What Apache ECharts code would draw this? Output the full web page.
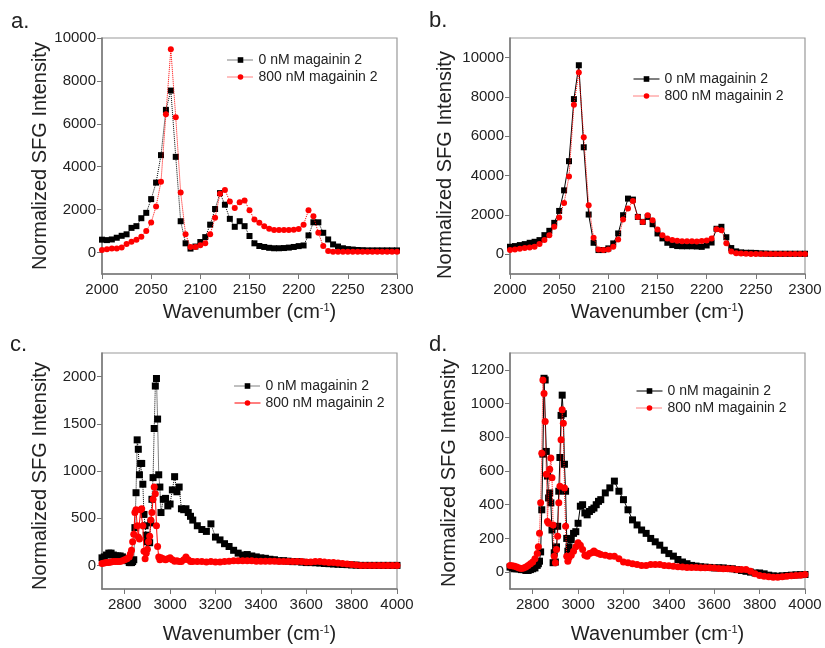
<!DOCTYPE html>
<html>
<head>
<meta charset="utf-8">
<script src="https://cdn.jsdelivr.net/npm/echarts@6/dist/echarts.min.js"></script>
<style>
html,body{margin:0;padding:0;background:#fff;}
#chart{width:825px;height:648px;}
</style>
</head>
<body>
<div id="chart"></div>
<script>
const seriesNames = ['0 nM magainin 2', '800 nM magainin 2'];
const panelLabels = ['a.', 'b.', 'c.', 'd.'];
const xAxisTitle = 'Wavenumber (cm{sup|-1})';
const yAxisTitle = 'Normalized SFG Intensity';

// Panels a & b wavenumbers
const xAB = [2000,2005,2010,2015,2020,2025,2030,2035,2040,2045,
  2050,2055,2060,2065,2070,2075,2080,2085,2090,2095,
  2100,2105,2110,2115,2120,2125,2130,2135,2140,2145,
  2150,2155,2160,2165,2170,2175,2180,2185,2190,2195,
  2200,2205,2210,2215,2220,2225,2230,2235,2240,2245,
  2250,2255,2260,2265,2270,2275,2280,2285,2290,2295,
  2300];

const blackA = [600,580,610,690,780,850,1150,1230,1600,1850,
  2490,3260,4540,6650,7550,4460,1460,430,185,280,
  490,720,1300,2030,2770,2230,1570,1200,1460,1230,
  770,430,305,260,220,200,200,210,230,260,
  300,330,800,1410,1410,920,610,380,280,200,
  160,140,120,110,100,100,100,100,100,100,
  100];
const redA = [120,150,185,185,230,400,500,600,740,1000,
  1400,2150,3300,6450,9470,6310,2800,850,260,260,
  340,430,850,1620,2740,2920,2380,2080,2340,2430,
  1970,1540,1390,1230,1110,1050,1050,1050,1050,1060,
  1100,1300,1970,1690,920,300,70,40,40,40,
  40,40,40,40,40,40,40,40,40,40,
  40];

const blackB = [385,420,470,520,587,638,723,976,1196,1600,
  2207,3254,4737,7894,9615,5445,2024,587,217,217,
  303,556,1062,1989,2834,2783,1903,1650,1903,1533,
  1062,810,587,470,420,410,410,410,400,380,
  450,600,1300,1400,870,320,150,100,80,80,
  70,50,40,30,30,30,30,30,30,30,
  30];
const redB = [217,250,284,318,352,385,520,723,976,1397,
  1872,2611,3962,7606,9241,5952,2495,843,250,217,
  250,385,757,1770,2327,2715,1903,1650,1989,1736,
  1264,976,810,723,689,670,660,660,650,680,
  700,800,1270,1230,560,140,60,40,30,20,
  20,20,20,20,20,20,20,20,20,20,
  20];

// Panels c & d wavenumbers
const xCD = [2700,2710,2720,2730,2740,2750,2760,2770,2780,2790,
  2800,2810,2820,2825,2830,2835,2840,2845,2850,2855,
  2860,2865,2870,2875,2880,2885,2890,2895,2900,2905,
  2910,2915,2920,2925,2930,2935,2940,2945,2950,2955,
  2960,2970,2980,2990,3000,3010,3020,3030,3040,3050,
  3060,3070,3080,3090,3100,3120,3140,3160,3180,3200,
  3220,3240,3260,3280,3300,3320,3340,3360,3380,3400,
  3420,3440,3460,3480,3500,3520,3540,3560,3580,3600,
  3620,3640,3660,3680,3700,3720,3740,3760,3780,3800,
  3820,3840,3860,3880,3900,3920,3940,3960,3980,4000];

const blackC = [80,90,110,130,130,110,100,100,100,90,
  70,50,30,30,30,40,60,400,770,1330,
  1230,960,1080,1080,860,540,420,320,250,300,
  240,450,700,930,1450,1900,1980,1550,960,830,
  560,700,710,630,650,800,940,780,830,600,
  590,600,560,520,480,420,380,360,440,300,
  270,230,200,160,130,110,115,100,90,80,
  75,65,60,50,50,45,40,40,35,30,
  30,28,25,20,18,15,12,10,8,5,
  3,0,0,0,0,0,0,0,0,0];
const redC = [20,25,30,30,35,40,40,40,40,50,
  60,70,90,120,160,250,330,560,590,420,
  300,280,590,600,420,150,70,130,170,250,
  310,480,560,700,830,760,420,200,90,60,
  80,70,60,70,80,60,45,50,40,40,
  60,90,60,40,40,40,40,35,40,35,
  35,40,45,50,50,50,50,50,45,45,
  45,45,45,40,40,40,40,40,40,35,
  35,40,40,35,30,30,25,20,15,10,
  5,0,0,0,0,0,0,0,0,0];

const blackD = [30,25,20,20,20,15,15,10,10,15,
  20,25,40,50,65,120,370,700,1150,1140,
  716,570,440,470,411,250,56,115,60,150,
  272,480,680,930,1050,940,640,480,200,124,
  150,193,230,240,290,391,400,351,340,360,
  371,380,400,420,430,470,500,540,480,430,
  370,310,280,250,230,200,180,160,130,110,
  95,75,60,50,40,36,32,30,28,25,
  26,25,22,20,15,10,5,0,-5,-5,
  -10,-18,-22,-24,-22,-20,-18,-16,-15,-14];
const redD = [40,38,35,30,25,22,25,30,40,50,
  60,80,110,150,230,411,706,1140,1060,894,
  580,300,290,610,677,560,280,95,56,134,
  213,411,509,785,963,884,499,272,95,65,
  85,100,124,150,174,160,134,100,95,110,
  115,125,115,110,105,100,95,95,80,60,
  56,50,45,40,40,45,45,45,40,38,
  35,32,30,28,28,27,26,26,26,25,
  22,20,20,18,16,16,15,5,-10,-20,
  -25,-28,-30,-30,-28,-25,-22,-20,-18,-14];

// tick labels
const xTicksAB = [2000,2050,2100,2150,2200,2250,2300];
const xTicksCD = [2800,3000,3200,3400,3600,3800,4000];
const yTicksA = [0,2000,4000,6000,8000,10000];
const yTicksB = [0,2000,4000,6000,8000,10000];
const yTicksC = [0,500,1000,1500,2000];
const yTicksD = [0,200,400,600,800,1000,1200];

const FONT = 'Liberation Sans, Arial, sans-serif';
const TXT = '#222';
const AXC = '#777';
const plain = v => String(v);

const panels = [
  {x: xAB, k: blackA, r: redA, xmin: 2000, xmax: 2300, xt: xTicksAB, ymin: -1000, ymax: 10000, yt: yTicksA,
   grid: {left: 102, top: 38, width: 295, height: 236}, kLine: 'dotted', rLine: 'dotted', sym: 6,
   legend: {left: 227, top: 53}, yGap: 52, yPad: 0, xGap: 28, lab: [11, 22]},
  {x: xAB, k: blackB, r: redB, xmin: 2000, xmax: 2300, xt: xTicksAB, ymin: -1000, ymax: 11000, yt: yTicksB,
   grid: {left: 510, top: 38, width: 295, height: 236}, kLine: 'solid', rLine: 'dotted', sym: 6,
   legend: {left: 633, top: 72}, yGap: 55, yPad: 18, xGap: 28, lab: [429, 21]},
  {x: xCD, k: blackC, r: redC, xmin: 2700, xmax: 4000, xt: xTicksCD, ymin: -250, ymax: 2250, yt: yTicksC,
   grid: {left: 102, top: 353, width: 295, height: 236}, kLine: 'dotted', rLine: 'solid', sym: 7,
   legend: {left: 234, top: 379}, yGap: 52, yPad: 10, xGap: 35, lab: [10, 345]},
  {x: xCD, k: blackD, r: redD, xmin: 2700, xmax: 4000, xt: xTicksCD, ymin: -100, ymax: 1300, yt: yTicksD,
   grid: {left: 510, top: 353, width: 295, height: 236}, kLine: 'solid', rLine: 'dotted', sym: 7,
   legend: {left: 636, top: 384}, yGap: 51, yPad: 4, xGap: 35, lab: [429, 345]}
];

const option = {
  animation: false,
  backgroundColor: '#fff',
  grid: [], xAxis: [], yAxis: [], series: [], legend: [], graphic: []
};

panels.forEach((p, i) => {
  option.grid.push(Object.assign({show: true, borderColor: '#999', borderWidth: 1.2, backgroundColor: 'transparent'}, p.grid));
  option.xAxis.push({
    type: 'value', gridIndex: i, min: p.xmin, max: p.xmax,
    splitLine: {show: false},
    axisLine: {show: true, onZero: false, lineStyle: {color: AXC, width: 1.5}},
    axisTick: {show: true, length: 5, customValues: p.xt, lineStyle: {color: AXC}},
    axisLabel: {customValues: p.xt, formatter: plain, fontSize: 15, color: TXT, fontFamily: FONT, margin: 8, showMaxLabel: true, showMinLabel: true},
    name: xAxisTitle, nameLocation: 'middle', nameGap: p.xGap,
    nameTextStyle: {fontSize: 20, color: TXT, fontFamily: FONT,
      rich: {sup: {fontSize: 11, color: TXT, fontFamily: FONT, verticalAlign: 'top', padding: [0, 0, 8, 0]}}}
  });
  option.yAxis.push({
    type: 'value', gridIndex: i, min: p.ymin, max: p.ymax,
    splitLine: {show: false},
    axisLine: {show: true, onZero: false, lineStyle: {color: AXC, width: 1.5}},
    axisTick: {show: true, length: 5, customValues: p.yt, lineStyle: {color: AXC}},
    axisLabel: {customValues: p.yt, formatter: plain, fontSize: 15, color: TXT, fontFamily: FONT, margin: 6},
    name: yAxisTitle, nameLocation: 'middle', nameGap: p.yGap,
    nameTextStyle: {fontSize: 20, color: TXT, fontFamily: FONT, padding: [0, p.yPad, 0, 0]}
  });
  option.series.push({
    name: seriesNames[0], type: 'line', xAxisIndex: i, yAxisIndex: i,
    data: p.x.map((x, j) => [x, p.k[j]]),
    symbol: 'rect', symbolSize: p.sym, showSymbol: true,
    lineStyle: {color: '#000', width: 1, type: p.kLine},
    itemStyle: {color: '#000'}, z: 2
  });
  option.series.push({
    name: seriesNames[1], type: 'line', xAxisIndex: i, yAxisIndex: i,
    data: p.x.map((x, j) => [x, p.r[j]]),
    symbol: 'circle', symbolSize: p.sym, showSymbol: true,
    lineStyle: {color: '#f00', width: 1, type: p.rLine},
    itemStyle: {color: '#f00'}, z: 3
  });
  option.legend.push({
    orient: 'vertical', left: p.legend.left, top: p.legend.top, padding: 0,
    itemWidth: 26, itemHeight: 7, itemGap: 3, selectedMode: false,
    textStyle: {fontSize: 14, lineHeight: 14, color: TXT, fontFamily: FONT},
    data: [
      {name: seriesNames[0], itemStyle: {color: '#000'}, lineStyle: {color: '#000', type: p.kLine, width: 1}},
      {name: seriesNames[1], itemStyle: {color: '#f00'}, lineStyle: {color: '#f00', type: p.rLine, width: 1}}
    ]
  });
  option.graphic.push({
    type: 'text', x: p.lab[0], y: p.lab[1],
    style: {text: panelLabels[i], font: '22px Liberation Sans, Arial, sans-serif', fill: TXT, align: 'left', verticalAlign: 'middle'}
  });
});

const chart = echarts.init(document.getElementById('chart'), null, {renderer: 'canvas'});
chart.setOption(option);
</script>
</body>
</html>
